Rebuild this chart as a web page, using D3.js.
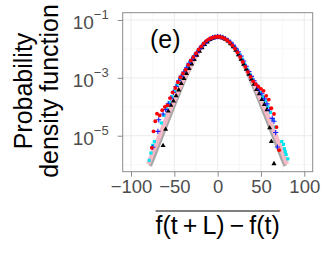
<!DOCTYPE html>
<html>
<head>
<meta charset="utf-8">
<script src="https://cdn.jsdelivr.net/npm/d3@7"></script>
<style>
  body { margin: 0; background: #fff; }
  svg { display: block; font-family: "Liberation Sans", Arial, sans-serif; }
</style>
</head>
<body>
<svg id="chart" width="327" height="256"></svg>
<script>
// values; densities kept as log10 exponents
const xTicks = [-100, -50, 0, 50, 100];
const yTickExp = [-1, -3, -5];
const panelTag = "(e)";

const grayX = [-78, -75, -70, -65, -60, -55, -50, -45, -40, -35, -30, -25, -20, -15, -10, -5, 0, 5, 10, 15, 20, 25, 30, 35, 40, 45, 50, 55, 60, 65, 70, 75, 78];
const grayLog = [-6.05, -5.85, -5.46, -5.08, -4.7, -4.32, -3.94, -3.57, -3.21, -2.87, -2.55, -2.25, -1.98, -1.8, -1.68, -1.61, -1.58, -1.61, -1.68, -1.8, -1.98, -2.25, -2.55, -2.87, -3.21, -3.57, -3.94, -4.32, -4.7, -5.08, -5.46, -5.85, -6.05];

const pinkX = [-80, -77, -74, -70, -65, -60, -55, -50, -45, -40, -35, -30, -25, -20, -15, -10, -5, 0, 5, 10, 15, 20, 25, 30, 35, 40, 45, 50, 55, 60, 65, 70, 74, 77, 80];
const pinkLog = [-5.98, -5.75, -5.52, -5.22, -4.85, -4.47, -4.1, -3.75, -3.4, -3.08, -2.8, -2.52, -2.24, -1.98, -1.8, -1.68, -1.61, -1.58, -1.61, -1.68, -1.8, -1.98, -2.24, -2.52, -2.8, -3.08, -3.4, -3.75, -4.1, -4.47, -4.85, -5.22, -5.52, -5.75, -5.98];

const redX = [-76, -74, -72, -70, -67, -64, -61, -58, -55, -52, -49, -46, -43, -40, -37, -34, -31, -28, -25, -22, -19, -16, -13, -10, -7, -4, -1, 2, 5, 8, 11, 14, 17, 20, 23, 26, 29, 32, 35, 38, 41, 44, 47, 50, 53, 56, 59, 62, 65, 68, 71];
const redLog = [-5.42, -4.85, -4.5, -4.24, -4.3, -4.12, -4.0, -3.95, -3.7, -3.5, -3.35, -3.15, -2.98, -2.85, -2.72, -2.55, -2.4, -2.28, -2.15, -2.02, -1.91, -1.81, -1.72, -1.66, -1.62, -1.59, -1.58, -1.58, -1.6, -1.64, -1.7, -1.78, -1.88, -1.99, -2.12, -2.28, -2.45, -2.62, -2.8, -2.97, -3.12, -3.22, -3.3, -3.38, -3.45, -3.62, -3.75, -4.05, -4.25, -4.7, -5.5];

const blueX = [-75, -69, -68, -63, -60, -57, -54, -51, -48, -45, -42, -39, -36, -33, -30, -27, -24, -21, -18, -15, -12, -9, -6, -3, 0, 3, 6, 9, 12, 15, 18, 21, 24, 27, 30, 33, 36, 39, 42, 45, 48, 51, 54, 57, 60, 63, 65, 67, 69];
const blueLog = [-5.4, -4.85, -4.45, -4.25, -4.1, -3.9, -3.7, -3.5, -3.3, -3.1, -2.95, -2.8, -2.65, -2.5, -2.37, -2.25, -2.13, -2.0, -1.9, -1.8, -1.72, -1.66, -1.61, -1.59, -1.58, -1.58, -1.6, -1.64, -1.7, -1.77, -1.87, -1.98, -2.1, -2.25, -2.42, -2.6, -2.78, -2.95, -3.1, -3.25, -3.4, -3.55, -3.72, -3.9, -4.1, -4.4, -4.5, -4.89, -5.39];

const cyanX = [-79, -77, -75, -73, -65, -62, -59, -56, -53, -50, -47, -44, -41, -38, -35, -32, -29, -26, -23, -20, -17, -14, -11, -8, -5, -2, 1, 4, 7, 10, 13, 16, 19, 22, 25, 28, 31, 34, 37, 40, 43, 46, 49, 52, 55, 58, 61, 64, 67, 74, 76, 77, 78, 79, 81];
const cyanLog = [-5.85, -5.6, -5.33, -5.2, -4.56, -4.3, -4.05, -3.85, -3.65, -3.45, -3.25, -3.05, -2.9, -2.75, -2.6, -2.45, -2.32, -2.2, -2.08, -1.96, -1.86, -1.77, -1.7, -1.64, -1.6, -1.58, -1.58, -1.59, -1.62, -1.67, -1.74, -1.83, -1.93, -2.05, -2.19, -2.35, -2.52, -2.7, -2.88, -3.05, -3.2, -3.35, -3.5, -3.65, -3.8, -4.0, -4.2, -4.45, -4.7, -5.2, -5.3, -5.45, -5.55, -5.65, -5.8];

const blackX = [-63, -60, -57, -54, -51, -48, -45, -42, -39, -36, -33, -30, -27, -24, -21, -18, -15, -12, -9, -6, -3, 0, 3, 6, 9, 12, 15, 18, 21, 24, 27, 30, 33, 36, 39, 42, 45, 48, 51, 54, 57, 60, 62, 65];
const blackLog = [-5.34, -4.78, -4.15, -3.95, -3.8, -3.62, -3.42, -3.2, -3.02, -2.85, -2.68, -2.52, -2.37, -2.22, -2.08, -1.96, -1.85, -1.76, -1.68, -1.63, -1.6, -1.58, -1.59, -1.62, -1.67, -1.73, -1.82, -1.93, -2.05, -2.2, -2.36, -2.53, -2.7, -2.88, -3.05, -3.22, -3.4, -3.55, -3.75, -3.92, -4.1, -4.73, -5.2, -5.97];

const pair = (xs, ls) => xs.map((x, i) => ({ x: x, y: Math.pow(10, ls[i]) }));

const svg = d3.select("#chart");
const panel = { left: 122.7, right: 312.7, top: 12.7, bottom: 171.7 };

const x = d3.scaleLinear().domain([-109.6, 109.7]).range([panel.left, panel.right]);
const y = d3.scaleLog().domain([Math.pow(10, -6.244), Math.pow(10, -0.748)]).range([panel.bottom, panel.top]);

// grid
const g = svg.append("g");
const minorX = [-75, -25, 25, 75];
const minorY = [1e-2, 1e-4, 1e-6];
g.selectAll(".gxm").data(minorX).enter().append("line")
  .attr("x1", d => x(d)).attr("x2", d => x(d))
  .attr("y1", panel.top).attr("y2", panel.bottom)
  .attr("stroke", "#f4f4f4").attr("stroke-width", 0.6);
g.selectAll(".gym").data(minorY).enter().append("line")
  .attr("y1", d => y(d)).attr("y2", d => y(d))
  .attr("x1", panel.left).attr("x2", panel.right)
  .attr("stroke", "#f4f4f4").attr("stroke-width", 0.6);
g.selectAll(".gx").data(xTicks).enter().append("line")
  .attr("x1", d => x(d)).attr("x2", d => x(d))
  .attr("y1", panel.top).attr("y2", panel.bottom)
  .attr("stroke", "#ebebeb").attr("stroke-width", 1);
g.selectAll(".gy").data(yTickExp).enter().append("line")
  .attr("y1", d => y(Math.pow(10, d))).attr("y2", d => y(Math.pow(10, d)))
  .attr("x1", panel.left).attr("x2", panel.right)
  .attr("stroke", "#ebebeb").attr("stroke-width", 1);

// reference curves
const line = d3.line().x(d => x(d.x)).y(d => y(d.y));
g.append("path").datum(pair(grayX, grayLog)).attr("d", line)
  .attr("fill", "none").attr("stroke", "#a6a6a6").attr("stroke-width", 3.5);
g.append("path").datum(pair(pinkX, pinkLog)).attr("d", line)
  .attr("fill", "none").attr("stroke", "#f7b9c6").attr("stroke-width", 4.5);

// points
g.selectAll(".cy").data(pair(cyanX, cyanLog)).enter().append("rect")
  .attr("x", d => x(d.x) - 1.6).attr("y", d => y(d.y) - 1.6)
  .attr("width", 3.2).attr("height", 3.2).attr("fill", "#00e5ee");
const tri = d3.symbol().type(d3.symbolTriangle).size(11);
g.selectAll(".bk").data(pair(blackX, blackLog)).enter().append("path")
  .attr("d", tri).attr("transform", d => `translate(${x(d.x)},${y(d.y)})`)
  .attr("fill", "#000");
g.selectAll(".bl").data(pair(blueX, blueLog)).enter().append("path")
  .attr("d", d => {
    const cx = x(d.x), cy = y(d.y), s = 2.6;
    return `M${cx - s},${cy}H${cx + s}M${cx},${cy - s}V${cy + s}`;
  })
  .attr("stroke", "#1a1aff").attr("stroke-width", 1.1).attr("fill", "none");
g.selectAll(".rd").data(pair(redX, redLog)).enter().append("circle")
  .attr("cx", d => x(d.x)).attr("cy", d => y(d.y)).attr("r", 1.9)
  .attr("fill", "#ff0000");

// panel border
svg.append("rect")
  .attr("x", panel.left).attr("y", panel.top)
  .attr("width", panel.right - panel.left).attr("height", panel.bottom - panel.top)
  .attr("fill", "none").attr("stroke", "#8c8c8c").attr("stroke-width", 1);

// axes
const xAxis = d3.axisBottom(x).tickValues(xTicks).tickSize(5).tickPadding(3)
  .tickFormat(d => d < 0 ? "\u2212" + Math.abs(d) : d);
const xAxisG = svg.append("g").attr("transform", `translate(0,${panel.bottom})`).call(xAxis);
xAxisG.select(".domain").remove();
xAxisG.selectAll(".tick line").attr("stroke", "#8c8c8c");
xAxisG.selectAll(".tick text").attr("fill", "#4d4d4d")
  .style("font-size", "18.5px").style("font-family", "Liberation Sans, Arial, sans-serif");

const yAxis = d3.axisLeft(y).tickValues(yTickExp.map(e => Math.pow(10, e))).tickSize(5).tickPadding(9)
  .tickFormat(() => "");
const yAxisG = svg.append("g").attr("transform", `translate(${panel.left},0)`).call(yAxis);
yAxisG.select(".domain").remove();
yAxisG.selectAll(".tick line").attr("stroke", "#8c8c8c");
yAxisG.selectAll(".tick text").each(function (d) {
  const t = d3.select(this).attr("fill", "#4d4d4d").attr("dy", "0.45em")
    .style("font-size", "19px").style("font-family", "Liberation Sans, Arial, sans-serif");
  t.append("tspan").text("10");
  t.append("tspan").attr("dy", "-10").style("font-size", "13px")
    .text("\u2212" + Math.abs(Math.round(Math.log10(d))));
});

// panel tag
svg.append("text").attr("x", 150).attr("y", 48)
  .style("font-size", "25px").attr("fill", "#000").text(panelTag);

// y title
const yt = svg.append("text")
  .attr("transform", "translate(32,91) rotate(-90)")
  .attr("text-anchor", "middle").style("font-size", "25px").attr("fill", "#000");
yt.append("tspan").attr("x", 0).attr("y", 0).text("Probability");
yt.append("tspan").attr("x", 0).attr("y", 26).text("density function");

// x title with overline
const xt = svg.append("text").attr("x", 217.7).attr("y", 234)
  .attr("text-anchor", "middle").style("font-size", "25px").attr("fill", "#000")
  .text("f(t\u2009+\u2009L)\u2009\u2212\u2009f(t)");
const bb = xt.node().getBBox();
svg.append("line").attr("x1", bb.x).attr("x2", bb.x + bb.width)
  .attr("y1", 211).attr("y2", 211).attr("stroke", "#000").attr("stroke-width", 1);
</script>
</body>
</html>
